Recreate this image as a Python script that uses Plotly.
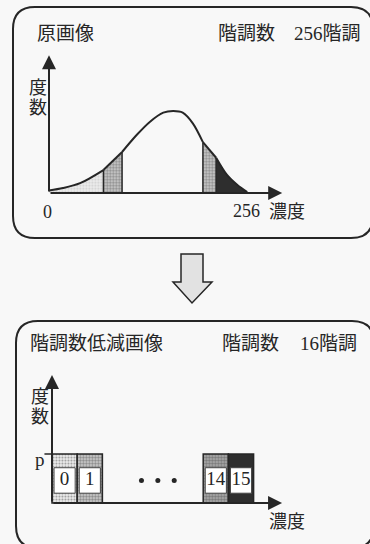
import plotly.graph_objects as go

# ---------------- data ----------------
# original image histogram (density 0..256, relative frequency)
density = [0, 18, 40, 70, 94, 113, 130, 147, 160, 172, 185, 198, 215, 229, 242, 255]
frequency = [3, 6, 12, 28, 50, 71, 87, 98, 100, 98, 85, 62, 43, 22, 10, 1]
band_edges = [0, 70, 94, 198, 215, 255]       # density values that split the shaded bands
band_fill = ["light", "mid", None, "mid", "dark"]
density_max_label = "256"

# reduced image histogram (16 levels, each level holds p)
levels = ["0", "1", "14", "15"]
level_counts = [1, 1, 1, 1]
level_fill = ["light", "mid", "mid2", "dark"]

title_top_left = "原画像"
title_top_mid = "階調数"
title_top_right = "256階調"
title_bot_left = "階調数低減画像"
title_bot_mid = "階調数"
title_bot_right = "16階調"
y_label = ["度", "数"]
x_label = "濃度"

# ---------------- helpers ----------------
W, H = 370, 544
INK = "#262626"
FONT = "Liberation Serif, Noto Sans CJK JP"


def X(p):
    return p / W


def Y(p):
    return 1 - p / H


STY = {
    "light": dict(shape=".", fgcolor="#b0b0b0", bgcolor="#ececec", size=3, solidity=0.35),
    "mid": dict(shape=".", fgcolor="#4a4a4a", bgcolor="#d0d0d0", size=3, solidity=0.5),
    "mid2": dict(shape=".", fgcolor="#333333", bgcolor="#b0b0b0", size=3, solidity=0.55),
    "dark": dict(shape="", fgcolor="#2e2e2e", bgcolor="#2e2e2e", size=3, solidity=0.5),
}

fig = go.Figure()

# ---------- top panel: axes placement ----------
tx0, tsx = 49, 199 / 256.0      # pixel of density 0, px per unit
ty0, tsy = 193, 0.82            # pixel of freq 0, px per unit
txr = [-8, 300]
tyr = [-8, 168]

idx = [density.index(e) for e in band_edges]
for k in range(len(idx) - 1):
    xs = density[idx[k]: idx[k + 1] + 1]
    ys = frequency[idx[k]: idx[k + 1] + 1]
    f = band_fill[k]
    kw = {}
    if f == "dark":
        kw = dict(fill="tozeroy", fillcolor=STY[f]["bgcolor"])
    elif f:
        kw = dict(fill="tozeroy", fillcolor=STY[f]["bgcolor"], fillpattern=STY[f])
    fig.add_trace(go.Scatter(
        x=xs, y=ys, mode="lines", xaxis="x", yaxis="y",
        line=dict(color=INK, width=2, shape="spline", smoothing=0.9),
        hoverinfo="skip", showlegend=False, **kw))

for e in band_edges[1:-1]:
    fig.add_trace(go.Scatter(
        x=[e, e], y=[0, frequency[density.index(e)]], mode="lines",
        xaxis="x", yaxis="y", line=dict(color=INK, width=1.5),
        hoverinfo="skip", showlegend=False))

# ---------- bottom panel ----------
bx0, bsx = 52, 25.2
by0, bsy = 503, 49.0
bxr = [-0.6, 9.2]
byr = [-0.2, 2.61]
gap = 4
slot = [i + (gap if i >= 2 else 0) + 0.5 for i in range(len(levels))]

fig.add_trace(go.Bar(
    x=slot, y=level_counts, width=1, xaxis="x2", yaxis="y2",
    marker=dict(
        color=[STY[s]["bgcolor"] for s in level_fill],
        pattern=dict(
            shape=[STY[s]["shape"] for s in level_fill],
            fgcolor=[STY[s]["fgcolor"] for s in level_fill],
            bgcolor=[STY[s]["bgcolor"] for s in level_fill],
            size=[STY[s]["size"] for s in level_fill],
            solidity=[STY[s]["solidity"] for s in level_fill],
        ),
        line=dict(color=INK, width=1.5)),
    hoverinfo="skip", showlegend=False))

lab_base = [c * 0.2 for c in level_counts]
lab_h = [c * 0.52 for c in level_counts]
fig.add_trace(go.Bar(
    x=slot, y=lab_h, base=lab_base, width=0.84, xaxis="x2", yaxis="y2",
    marker=dict(color="white", line=dict(color="#444", width=1)),
    hoverinfo="skip", showlegend=False))

fig.add_trace(go.Scatter(
    x=slot, y=[b + h / 2 for b, h in zip(lab_base, lab_h)], mode="text",
    text=levels, textfont=dict(family=FONT, size=19, color=INK),
    xaxis="x2", yaxis="y2", hoverinfo="skip", showlegend=False))

mid = (2 + 2 + gap) / 2 + 0.2
fig.add_trace(go.Scatter(
    x=[mid - 0.65, mid, mid + 0.65], y=[0.46] * 3, mode="markers",
    marker=dict(size=5, color=INK), xaxis="x2", yaxis="y2",
    hoverinfo="skip", showlegend=False))

fig.add_trace(go.Scatter(
    x=[-0.3, 0], y=[level_counts[0]] * 2, mode="lines",
    line=dict(color=INK, width=1.5), xaxis="x2", yaxis="y2",
    hoverinfo="skip", showlegend=False))


def dom_x(x0, s, r):
    return [X(x0 + r[0] * s), X(x0 + r[1] * s)]


def dom_y(y0, s, r):
    return [Y(y0 - r[0] * s), Y(y0 - r[1] * s)]


ax_common = dict(visible=False, fixedrange=True)

# ---------- annotations ----------
ann = []


def text(t, x, y, size=19, xa="center", ya="middle"):
    ann.append(dict(text=t, x=X(x), y=Y(y), xref="paper", yref="paper",
                    xanchor=xa, yanchor=ya, showarrow=False,
                    font=dict(family=FONT, size=size, color=INK)))


def arrow(xref, yref, x, y, ax, ay):
    ann.append(dict(text="", x=x, y=y, ax=ax, ay=ay, xref=xref, yref=yref,
                    axref=xref, ayref=yref, showarrow=True, arrowhead=2,
                    arrowsize=1.4, arrowwidth=2, arrowcolor=INK, standoff=0))


arrow("x", "y", 300, 0, 0, 0)
arrow("x", "y", 0, 168, 0, 0)
arrow("x2", "y2", 9.13, 0, 0, 0)
arrow("x2", "y2", 0, 2.61, 0, 0)

text(title_top_left, 65, 33)
text(title_top_mid, 246, 33)
text(title_top_right, 363, 33, xa="right")
text(y_label[0], 38, 88, 18)
text(y_label[1], 38, 108, 18)
text("0", 47, 212, 18)
text(density_max_label, 246, 211, 18)
text(x_label, 287, 212, 18)

text(title_bot_left, 28, 343, xa="left")
text(title_bot_mid, 251, 343)
text(title_bot_right, 359, 343, xa="right")
text(y_label[0], 40, 397, 18)
text(y_label[1], 40, 417, 18)
text("p", 40, 459, 19)
text(x_label, 287, 522, 18)


# ---------- shapes ----------
def rrect(x0, y0, x1, y1, r):
    return (f"M {X(x0 + r)},{Y(y0)} L {X(x1 - r)},{Y(y0)} "
            f"Q {X(x1)},{Y(y0)} {X(x1)},{Y(y0 + r)} L {X(x1)},{Y(y1 - r)} "
            f"Q {X(x1)},{Y(y1)} {X(x1 - r)},{Y(y1)} L {X(x0 + r)},{Y(y1)} "
            f"Q {X(x0)},{Y(y1)} {X(x0)},{Y(y1 - r)} L {X(x0)},{Y(y0 + r)} "
            f"Q {X(x0)},{Y(y0)} {X(x0 + r)},{Y(y0)} Z")


arrow_pts = [(181, 254), (203, 254), (203, 282), (212, 282), (192, 303), (173, 282), (181, 282)]
arrow_path = "M " + " L ".join(f"{X(a)},{Y(b)}" for a, b in arrow_pts) + " Z"

shapes = [
    dict(type="path", path=rrect(13, 7, 373, 238, 22), xref="paper", yref="paper",
         line=dict(color=INK, width=2)),
    dict(type="path", path=rrect(16, 321, 374, 548, 22), xref="paper", yref="paper",
         line=dict(color=INK, width=2)),
    dict(type="path", path=arrow_path, xref="paper", yref="paper",
         line=dict(color=INK, width=1.5), fillcolor="#e2e2e2"),
]

fig.update_layout(
    width=W, height=H, margin=dict(l=0, r=0, t=0, b=0),
    paper_bgcolor="#f8f8f8", plot_bgcolor="rgba(0,0,0,0)",
    showlegend=False, barmode="overlay",
    xaxis=dict(domain=dom_x(tx0, tsx, txr), range=txr, anchor="y", **ax_common),
    yaxis=dict(domain=dom_y(ty0, tsy, tyr), range=tyr, anchor="x", **ax_common),
    xaxis2=dict(domain=dom_x(bx0, bsx, bxr), range=bxr, anchor="y2", **ax_common),
    yaxis2=dict(domain=dom_y(by0, bsy, byr), range=byr, anchor="x2", **ax_common),
    annotations=ann, shapes=shapes,
)

fig.write_html(
    "out.html",
    config={"displayModeBar": False},
    post_script="document.body.style.margin='0';document.body.style.padding='0';",
)
